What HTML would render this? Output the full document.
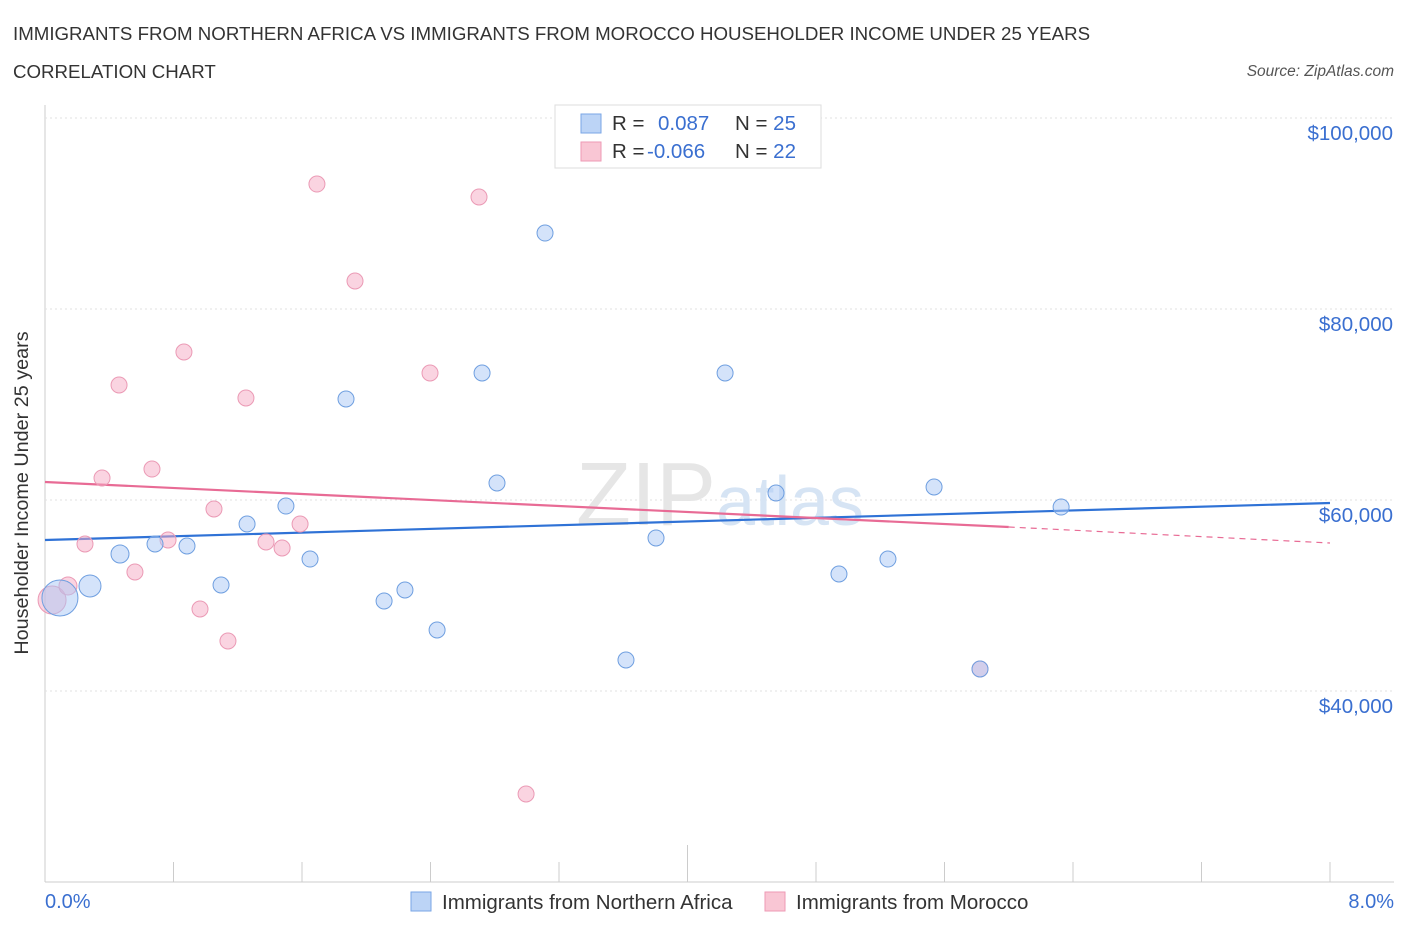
<!DOCTYPE html>
<html><head><meta charset="utf-8"><style>
body{margin:0;background:#fff;font-family:"Liberation Sans",sans-serif;}
svg text{font-family:"Liberation Sans",sans-serif;}
</style></head><body>
<svg width="1406" height="930" viewBox="0 0 1406 930">
<text x="13" y="40" font-size="18.7" fill="#333">IMMIGRANTS FROM NORTHERN AFRICA VS IMMIGRANTS FROM MOROCCO HOUSEHOLDER INCOME UNDER 25 YEARS</text>
<text x="13" y="78" font-size="18.7" fill="#333">CORRELATION CHART</text>
<text x="1394" y="76" font-size="15.5" fill="#555" font-style="italic" text-anchor="end">Source: ZipAtlas.com</text>
<g id="grid"></g>
<text x="720" y="525" font-size="90" fill="#e6e6e6" text-anchor="middle" font-family="Liberation Serif">ZIP<tspan fill="#d6e4f4" font-family="Liberation Sans" font-size="70">atlas</tspan></text>
<g id="trends"></g>
<g id="points"></g>
<text x="28" y="493" font-size="19.8" fill="#333" text-anchor="middle" transform="rotate(-90 28 493)">Householder Income Under 25 years</text>
<text x="45" y="908" font-size="20" fill="#3a6fd0">0.0%</text>
<text x="1394" y="908" font-size="20" fill="#3a6fd0" text-anchor="end">8.0%</text>
<g>
<rect x="555" y="105" width="266" height="63" fill="#fff" stroke="#ddd"/>
<rect x="581" y="114" width="20" height="19" fill="#bcd4f6" stroke="#7aa6e6"/>
<rect x="581" y="142" width="20" height="19" fill="#f9c6d4" stroke="#ee9ab5"/>
<text x="612" y="130" font-size="20.5" fill="#333">R = <tspan x="658" fill="#3a6fd0">0.087</tspan><tspan x="735" fill="#333">N = </tspan><tspan fill="#3a6fd0">25</tspan></text>
<text x="612" y="158" font-size="20.5" fill="#333">R = <tspan x="647" fill="#3a6fd0">-0.066</tspan><tspan x="735" fill="#333">N = </tspan><tspan fill="#3a6fd0">22</tspan></text>
</g>
<g>
<rect x="411" y="892" width="20" height="19" fill="#bcd4f6" stroke="#7aa6e6"/>
<text x="442" y="909" font-size="20.5" fill="#333">Immigrants from Northern Africa</text>
<rect x="765" y="892" width="20" height="19" fill="#f9c6d4" stroke="#ee9ab5"/>
<text x="796" y="909" font-size="20.5" fill="#333">Immigrants from Morocco</text>
</g>
</svg>
<script>
const yTicks=[40000,60000,80000,100000];
const yTickLabels=["$40,000","$60,000","$80,000","$100,000"];
const blueX=[0.093,0.280,0.467,0.685,0.884,1.096,1.258,1.500,1.650,1.874,2.111,2.241,2.441,2.721,2.814,3.113,3.617,3.804,4.234,4.551,4.943,5.248,5.535,5.821,6.326];
const blueY=[49738,51000,54345,55392,55183,51100,57486,59370,53820,70575,49424,50576,46387,73298,61780,87957,43246,56021,73298,60733,52251,53820,61361,42304,59266];
const blueR=[18,11,9,8,8,8,8,8,8,8,8,8,8,8,8,8,8,8,8,8,8,8,8,8,8];
const pinkX=[0.044,0.143,0.249,0.355,0.461,0.560,0.666,0.766,0.865,0.965,1.052,1.139,1.251,1.376,1.476,1.588,1.693,1.930,2.397,2.702,2.995,5.821];
const pinkY=[49528,51000,55392,62303,72041,52460,63245,55811,75497,48586,59057,45235,70680,55602,54974,57486,93088,82931,73298,91727,29215,42304];
const pinkR=[14,9,8,8,8,8,8,8,8,8,8,8,8,8,8,8,8,8,8,8,8,8];
const blueTrend=[[0,55811],[8,59685]];
const pinkTrendSolid=[[0,61885],[6.0,57172]];
const pinkTrendDash=[[6.0,57172],[8,55497]];
const X=v=>45+v/8*1285, Y=v=>882-(v-20000)/80000*764;
const NS="http://www.w3.org/2000/svg";
function mk(tag,attrs,parent){const e=document.createElementNS(NS,tag);for(const k in attrs)e.setAttribute(k,attrs[k]);document.getElementById(parent).appendChild(e);return e;}
mk('line',{x1:45,y1:105,x2:45,y2:882,stroke:'#ccc'},'grid');
mk('line',{x1:45,y1:882,x2:1394,y2:882,stroke:'#ccc'},'grid');
mk('line',{x1:45,y1:Y(100000),x2:1394,y2:Y(100000),stroke:'#e2e2e2','stroke-dasharray':'2,3'},'grid');
yTicks.forEach((t,i)=>{
 const l=mk('line',{x1:45,y1:Y(t),x2:1394,y2:Y(t),stroke:'#e2e2e2','stroke-dasharray':'2,3'},'grid');
 
 
 const tx=mk('text',{x:1393,y:Y(t)+22,'font-size':20.5,fill:'#3a6fd0','text-anchor':'end'},'grid');
 tx.textContent=yTickLabels[i];
 
 
});
for(let i=1;i<=10;i++){
 const l=mk('line',{x1:X(i*0.8),y1:i==5?845:862,x2:X(i*0.8),y2:882,stroke:'#ccc'},'grid');
 
 
}
function trend(p,col,dash,name){const l=mk('line',{x1:X(p[0][0]),y1:Y(p[0][1]),x2:X(p[1][0]),y2:Y(p[1][1]),stroke:col,'stroke-width':dash?1.2:2.2},'trends');if(dash)l.setAttribute('stroke-dasharray','6,5');
 
 }
trend(blueTrend,'#2f72d6',false,'blue-trend-line');
trend(pinkTrendSolid,'#e86b95',false,'pink-trend-line');
trend(pinkTrendDash,'#e86b95',true,'pink-trend-dashed');
pinkX.forEach((x,i)=>{const c=mk('circle',{cx:X(x),cy:Y(pinkY[i]),r:pinkR[i],fill:'rgba(246,170,195,0.5)',stroke:'#eb9ab5','stroke-width':1},'points');
 
 });
blueX.forEach((x,i)=>{const c=mk('circle',{cx:X(x),cy:Y(blueY[i]),r:blueR[i],fill:'rgba(170,200,245,0.5)',stroke:'#6f9fe0','stroke-width':1},'points');
 
 });
</script>
</body></html>
